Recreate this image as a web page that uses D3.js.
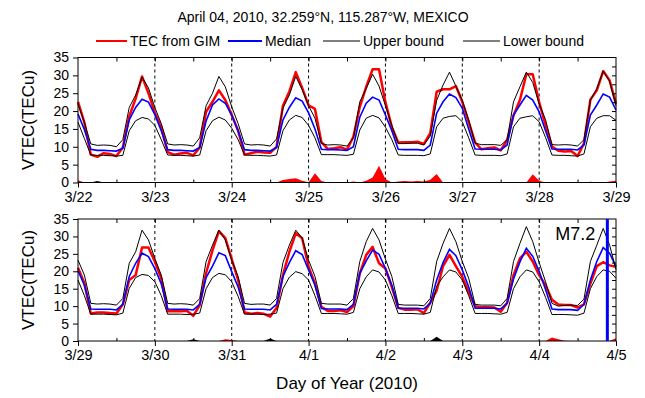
<!DOCTYPE html>
<html>
<head>
<meta charset="utf-8">
<script src="https://cdn.jsdelivr.net/npm/d3@7"></script>
<style>
body { margin: 0; background: #fff; }
svg { display: block; font-family: "Liberation Sans", Arial, sans-serif; }
</style>
</head>
<body>
<svg id="chart" width="645" height="398"></svg>
<script>
// tick labels of the two panels (one per day, 0 UT)
let topDays = ["3/22", "3/23", "3/24", "3/25", "3/26", "3/27", "3/28", "3/29"];
let bottomDays = ["3/29", "3/30", "3/31", "4/1", "4/2", "4/3", "4/4", "4/5"];
let yTicks = [0, 5, 10, 15, 20, 25, 30, 35];

// 2-hourly values (0,2,...,22 UT for each day, last value = 0 UT of the next day)
let topTEC = [
    22.6, 16.8, 7.8, 7.2, 8.2, 8.0, 7.4, 9.8, 18.5, 23.5, 29.7, 25.0,
    19.5, 15.5, 8.5, 7.8, 8.1, 8.3, 7.6, 9.8, 19.8, 22.6, 25.8, 23.1,
    18.9, 14.5, 7.8, 8.2, 8.6, 8.4, 8.3, 10.0, 21.5, 25.5, 30.9, 26.5,
    21.6, 20.6, 11.3, 9.4, 9.6, 9.9, 9.2, 12.8, 21.2, 26.8, 31.7, 31.7,
    22.5, 15.5, 11.2, 11.3, 11.3, 11.4, 10.8, 13.8, 25.4, 26.1, 26.1, 27.0,
    22.6, 17.0, 11.2, 9.3, 9.6, 9.8, 9.0, 11.9, 18.8, 23.1, 30.3, 30.3,
    22.5, 16.1, 10.1, 8.9, 8.7, 8.8, 7.4, 11.0, 23.2, 25.8, 31.2, 28.6,
    22.0
];
let topMedian = [
    19.2, 14.8, 9.3, 9.0, 9.0, 8.9, 8.8, 9.6, 17.5, 21.0, 23.3, 22.5,
    19.0, 14.5, 9.2, 9.0, 9.0, 8.9, 8.8, 9.8, 17.2, 21.7, 23.4, 22.2,
    18.9, 14.5, 9.2, 9.0, 9.0, 8.9, 8.8, 9.8, 17.5, 21.0, 23.7, 22.8,
    19.5, 15.0, 9.3, 9.2, 9.2, 9.1, 9.0, 10.0, 18.3, 22.2, 23.9, 23.1,
    18.9, 14.5, 9.3, 9.2, 9.2, 9.2, 9.0, 10.5, 19.4, 22.6, 24.8, 23.8,
    20.8, 15.0, 9.4, 9.3, 9.3, 9.3, 9.1, 10.5, 18.9, 21.7, 24.4, 23.1,
    19.8, 14.5, 9.4, 9.3, 9.3, 9.3, 9.1, 10.5, 18.9, 21.7, 24.8, 23.9,
    20.3
];
let topUpper = [
    22.0, 16.8, 10.8, 10.4, 10.5, 10.4, 10.0, 12.0, 21.0, 24.5, 29.5, 26.5,
    21.0, 16.5, 10.8, 10.5, 10.6, 10.5, 10.2, 12.5, 21.5, 25.0, 29.7, 26.8,
    21.2, 16.5, 10.8, 10.5, 10.6, 10.5, 10.2, 12.2, 20.8, 24.5, 29.7, 26.0,
    21.5, 18.0, 10.9, 10.5, 10.6, 10.5, 10.2, 12.5, 22.6, 26.3, 30.3, 27.0,
    21.5, 16.0, 10.9, 10.9, 11.0, 11.0, 10.5, 13.0, 23.0, 27.3, 30.9, 27.0,
    23.0, 17.5, 11.0, 10.6, 10.6, 10.6, 10.4, 12.0, 22.6, 26.8, 30.9, 28.0,
    22.0, 17.6, 10.6, 10.5, 10.6, 10.5, 10.2, 12.0, 23.0, 26.3, 31.2, 28.3,
    21.5
];
let topLower = [
    16.9, 12.3, 7.7, 7.6, 7.6, 7.5, 7.4, 7.6, 14.5, 17.3, 18.2, 17.8,
    16.0, 12.0, 7.7, 7.6, 7.6, 7.5, 7.4, 7.7, 14.5, 17.3, 18.3, 17.5,
    15.2, 12.0, 7.7, 7.6, 7.6, 7.5, 7.4, 7.7, 14.5, 17.5, 18.8, 18.2,
    16.0, 12.5, 7.8, 7.8, 7.8, 7.7, 7.6, 7.9, 14.7, 18.0, 18.8, 18.1,
    15.5, 12.0, 7.7, 7.6, 7.6, 7.6, 7.5, 8.0, 15.6, 18.0, 18.5, 18.7,
    17.0, 12.5, 7.7, 7.6, 7.6, 7.6, 7.5, 8.0, 15.6, 18.0, 18.4, 18.7,
    17.0, 12.6, 7.7, 7.6, 7.6, 7.5, 7.4, 8.0, 15.6, 18.0, 18.7, 18.7,
    17.4
];

let bottomTEC = [
    21.0, 16.6, 7.9, 8.2, 8.2, 8.0, 7.9, 10.5, 17.5, 18.9, 26.8, 26.8,
    22.8, 18.0, 8.5, 8.5, 8.5, 8.7, 7.2, 10.3, 19.5, 26.0, 31.5, 29.5,
    23.5, 17.5, 8.2, 7.8, 8.0, 7.8, 7.0, 9.5, 18.9, 25.6, 30.9, 29.5,
    21.3, 16.5, 9.8, 8.6, 8.6, 8.8, 8.3, 10.0, 19.4, 24.7, 27.0, 22.3,
    20.8, 15.5, 9.5, 9.0, 9.0, 9.1, 8.0, 11.0, 14.5, 21.5, 24.7, 21.5,
    18.4, 14.0, 10.0, 9.7, 9.7, 9.6, 8.4, 11.0, 18.9, 23.7, 25.6, 22.8,
    18.9, 16.0, 11.8, 10.5, 10.3, 10.3, 9.6, 10.5, 16.5, 21.5, 22.6, 21.7,
    21.3
];
let bottomMedian = [
    20.2, 16.0, 9.2, 9.1, 9.1, 9.1, 8.9, 10.5, 18.5, 22.3, 25.2, 24.2,
    20.8, 16.4, 9.2, 9.1, 9.1, 9.1, 8.9, 10.5, 18.2, 21.5, 25.3, 24.5,
    19.9, 15.5, 9.2, 9.1, 9.1, 9.1, 8.9, 10.5, 18.5, 22.5, 25.9, 24.8,
    20.4, 16.0, 9.3, 9.2, 9.2, 9.2, 9.0, 10.5, 19.4, 23.0, 26.1, 24.9,
    20.8, 16.0, 9.4, 9.4, 9.4, 9.4, 9.2, 10.8, 17.5, 22.5, 26.3, 24.5,
    20.4, 15.5, 9.4, 9.4, 9.4, 9.4, 9.2, 10.8, 17.8, 22.7, 26.6, 24.3,
    20.0, 14.8, 9.2, 9.0, 9.0, 9.0, 8.8, 10.5, 17.5, 22.8, 26.8, 25.2,
    21.3
];
let bottomUpper = [
    23.2, 18.9, 10.8, 10.6, 10.7, 10.6, 10.3, 12.2, 22.3, 25.6, 31.8, 29.0,
    23.7, 18.9, 10.8, 10.6, 10.7, 10.6, 10.3, 12.2, 22.8, 27.5, 31.8, 29.0,
    23.2, 18.5, 10.8, 10.5, 10.6, 10.6, 10.3, 12.2, 22.5, 27.5, 31.8, 29.5,
    23.2, 18.5, 10.8, 10.6, 10.6, 10.6, 10.3, 12.2, 22.8, 28.5, 32.3, 29.0,
    23.5, 18.5, 10.5, 10.3, 10.3, 10.3, 10.1, 12.2, 22.8, 28.0, 32.3, 28.5,
    22.8, 18.0, 10.5, 10.3, 10.3, 10.3, 10.1, 12.2, 22.8, 28.0, 32.8, 28.5,
    22.5, 17.0, 10.8, 10.0, 10.2, 10.3, 10.2, 12.0, 22.8, 27.5, 32.3, 27.5,
    20.5
];
let bottomLower = [
    17.5, 13.0, 7.7, 7.7, 7.7, 7.6, 7.5, 8.0, 15.1, 18.2, 19.1, 18.8,
    17.0, 13.0, 7.7, 7.7, 7.7, 7.6, 7.7, 8.0, 15.0, 18.2, 19.4, 19.0,
    17.0, 12.8, 7.7, 7.7, 7.7, 7.6, 7.7, 8.0, 15.0, 18.3, 19.9, 19.3,
    17.5, 13.0, 7.9, 7.9, 7.9, 7.8, 7.7, 8.2, 15.0, 18.4, 20.4, 19.8,
    17.5, 13.0, 7.9, 7.9, 7.9, 7.8, 7.7, 8.2, 15.7, 18.4, 20.4, 19.8,
    17.5, 13.0, 7.9, 7.9, 7.9, 7.8, 7.7, 8.2, 15.0, 18.4, 20.4, 19.8,
    17.0, 12.5, 7.6, 7.6, 7.6, 7.5, 7.4, 8.0, 15.0, 18.5, 20.4, 20.0,
    18.0
];

// earthquake: hours after 3/29 0 UT (4/4 ~21 UT as drawn)
let quakeHour = 165.3;
let quakeLabel = "M7.2";

let legendItems = [
    {name: "TEC from GIM", color: "#ff0000", width: 2},
    {name: "Median", color: "#0000ff", width: 2},
    {name: "Upper bound", color: "#000", width: 1.2},
    {name: "Lower bound", color: "#000", width: 1.2}
];

let svg = d3.select("#chart");
svg.append("rect").attr("width", 645).attr("height", 398).attr("fill", "#fff");

let left = 78, right = 616;
let x = d3.scaleLinear().domain([0, 168]).range([left, right]);

function drawPanel(top, bottom, days, tec, med, upper, lower) {
    let y = d3.scaleLinear().domain([0, 35]).range([bottom, top]);
    let g = svg.append("g");
    let hrs = tec.map(function (d, i) { return i * 2; });

    // dashed day separators
    g.selectAll("line.day")
        .data(d3.range(24, 168, 24))
        .enter()
        .append("line")
        .attr("x1", function (d) { return x(d) })
        .attr("x2", function (d) { return x(d) })
        .attr("y1", top)
        .attr("y2", bottom)
        .attr("stroke", "#000")
        .attr("stroke-width", 1)
        .attr("stroke-dasharray", "3,3");

    // anomaly fills (above upper bound red, below lower bound black)
    let over = tec.map(function (d, i) { return Math.max(0, d - upper[i]) });
    let under = tec.map(function (d, i) { return Math.max(0, lower[i] - d) });
    let area = d3.area()
        .x(function (d, i) { return x(hrs[i]) })
        .y0(y(0))
        .y1(function (d) { return y(d) });
    g.append("path").attr("d", area(over)).attr("fill", "#ff0000");
    g.append("path").attr("d", area(under)).attr("fill", "#000");

    let line = d3.line()
        .x(function (d, i) { return x(hrs[i]) })
        .y(function (d) { return y(d) });
    g.append("path").attr("d", line(tec)).attr("fill", "none")
        .attr("stroke", "#ff0000").attr("stroke-width", 2.5).attr("stroke-linejoin", "round");
    g.append("path").attr("d", line(med)).attr("fill", "none")
        .attr("stroke", "#0000ff").attr("stroke-width", 1.6);
    g.append("path").attr("d", line(upper)).attr("fill", "none")
        .attr("stroke", "#000").attr("stroke-width", 1);
    g.append("path").attr("d", line(lower)).attr("fill", "none")
        .attr("stroke", "#000").attr("stroke-width", 1);

    // frame
    g.append("rect")
        .attr("x", left).attr("y", top)
        .attr("width", right - left).attr("height", bottom - top)
        .attr("fill", "none").attr("stroke", "#000").attr("stroke-width", 1);

    // left axis
    let ax = g.append("g")
        .attr("transform", "translate(" + left + ",0)")
        .call(d3.axisLeft(y).tickValues(yTicks).tickSize(5).tickPadding(4));
    ax.select(".domain").remove();
    ax.selectAll("text").attr("font-size", 14).attr("font-family", "Liberation Sans, Arial, sans-serif").attr("fill", "#000");

    // right axis, inward minor ticks
    let rx = g.append("g")
        .attr("transform", "translate(" + right + ",0)")
        .call(d3.axisRight(y).tickValues(d3.range(2.5, 35, 2.5)).tickSize(-4).tickFormat(""));
    rx.select(".domain").remove();

    // top axis, inward half-day ticks
    let tx = g.append("g")
        .attr("transform", "translate(0," + top + ")")
        .call(d3.axisTop(x).tickValues(d3.range(12, 168, 12)).tickSize(-4).tickFormat(""));
    tx.select(".domain").remove();

    // bottom axis, day ticks + labels
    let bx = g.append("g")
        .attr("transform", "translate(0," + bottom + ")")
        .call(d3.axisBottom(x).tickValues(d3.range(0, 169, 24))
            .tickFormat(function (d, i) { return days[i] }).tickSize(5).tickPadding(4));
    bx.select(".domain").remove();
    bx.selectAll("text").attr("font-size", 14.5).attr("font-family", "Liberation Sans, Arial, sans-serif").attr("fill", "#000");
    let mx = g.append("g")
        .attr("transform", "translate(0," + bottom + ")")
        .call(d3.axisBottom(x).tickValues(d3.range(12, 168, 24)).tickSize(-3).tickFormat(""));
    mx.select(".domain").remove();

    // y label
    g.append("text")
        .attr("transform", "translate(34," + ((top + bottom) / 2) + ") rotate(-90)")
        .attr("text-anchor", "middle")
        .attr("font-size", 17)
        .text("VTEC(TECu)");

    return y;
}

drawPanel(57.5, 182.5, topDays, topTEC, topMedian, topUpper, topLower);
let yB = drawPanel(219, 341, bottomDays, bottomTEC, bottomMedian, bottomUpper, bottomLower);

// earthquake marker
svg.append("line")
    .attr("x1", x(quakeHour)).attr("x2", x(quakeHour))
    .attr("y1", yB(35)).attr("y2", yB(0))
    .attr("stroke", "#0000ff").attr("stroke-width", 3);
svg.append("text")
    .attr("x", x(quakeHour) - 12).attr("y", 240)
    .attr("text-anchor", "end")
    .attr("font-size", 18)
    .text(quakeLabel);

// title
svg.append("text")
    .attr("x", 323).attr("y", 22)
    .attr("text-anchor", "middle")
    .attr("font-size", 14)
    .text("April 04, 2010, 32.259\u00B0N, 115.287\u00B0W, MEXICO");

// legend
let legendX = [96, 228, 323, 463];
let legendLen = [31, 34, 37, 37];
let lg = svg.append("g");
legendItems.forEach(function (d, i) {
    lg.append("line")
        .attr("x1", legendX[i]).attr("x2", legendX[i] + legendLen[i])
        .attr("y1", 41).attr("y2", 41)
        .attr("stroke", d.color).attr("stroke-width", d.width);
    lg.append("text")
        .attr("x", legendX[i] + legendLen[i] + 3).attr("y", 46)
        .attr("font-size", 14)
        .text(d.name);
});

// x axis title
svg.append("text")
    .attr("x", 347).attr("y", 389)
    .attr("text-anchor", "middle")
    .attr("font-size", 17)
    .text("Day of Year (2010)");
</script>
</body>
</html>
